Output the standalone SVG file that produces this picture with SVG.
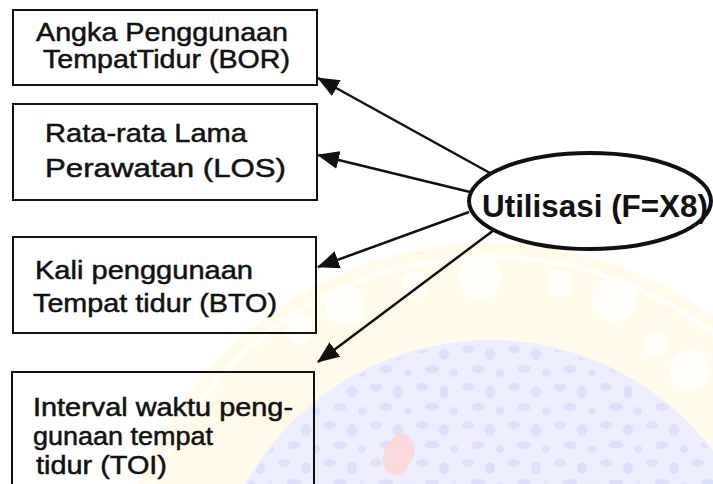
<svg xmlns="http://www.w3.org/2000/svg" width="713" height="484" viewBox="0 0 713 484">
  <style>
    .box { fill: none; stroke: #111; stroke-width: 2; }
    .lbl { font-family: "Liberation Sans", Arial, sans-serif; font-size: 26.5px; fill: #111; stroke: #111; stroke-width: 0.5; }
    .lbl.tight { font-size: 25px; }
    .main { font-family: "Liberation Sans", Arial, sans-serif; font-size: 31px; font-weight: bold; fill: #111; }
    .edge { fill: none; stroke: #111; stroke-width: 2.5; }
  </style>
  <defs>
    <marker id="arrow" markerUnits="userSpaceOnUse" markerWidth="22" markerHeight="18" viewBox="0 0 22 18" refX="21" refY="9" orient="auto">
      <path d="M0,0 L22,9 L0,18 Z" fill="#111"/>
    </marker>
    <pattern id="speckle" patternUnits="userSpaceOnUse" width="46" height="38">
      <ellipse cx="8" cy="7" rx="6" ry="4" fill="#dde0fb"/>
      <ellipse cx="30" cy="12" rx="5" ry="6" fill="#dde0fb"/>
      <ellipse cx="18" cy="27" rx="7" ry="4" fill="#dde0fb"/>
      <ellipse cx="40" cy="31" rx="4" ry="4" fill="#dde0fb"/>
    </pattern>
  </defs>

  <rect width="713" height="484" fill="#fff"/>

  <!-- faint emblem in the background -->
  <g id="emblem">
    <circle cx="490" cy="620" r="377" fill="#fffaea"/>
    <circle cx="490" cy="620" r="363" fill="none" stroke="#fffefa" stroke-width="5"/>
    <g fill="#fffefa">
      <circle cx="300" cy="330" r="14"/>
      <circle cx="345" cy="305" r="20"/>
      <circle cx="415" cy="285" r="13"/>
      <circle cx="480" cy="277" r="22"/>
      <circle cx="560" cy="283" r="13"/>
      <circle cx="615" cy="300" r="22"/>
      <circle cx="655" cy="345" r="12"/>
      <circle cx="690" cy="370" r="20"/>
    </g>
    <circle cx="490" cy="620" r="280" fill="#eceefd"/>
    <circle cx="490" cy="620" r="278" fill="url(#speckle)"/>
    <path d="M386,448 q10,-20 22,-12 q12,10 2,28 q-10,16 -20,10 q-12,-8 -4,-26 Z" fill="#fbdada"/>
  </g>

  <!-- connectors -->
  <g id="connectors">
    <line class="edge" x1="490" y1="173" x2="318" y2="78" marker-end="url(#arrow)"/>
    <line class="edge" x1="470" y1="192" x2="318" y2="155" marker-end="url(#arrow)"/>
    <line class="edge" x1="469" y1="212" x2="318" y2="267" marker-end="url(#arrow)"/>
    <line class="edge" x1="494" y1="230" x2="318" y2="362" marker-end="url(#arrow)"/>
  </g>

  <g id="bor">
    <rect class="box" x="13" y="10" width="304" height="75"/>
    <text class="lbl" x="36" y="41" textLength="252" lengthAdjust="spacingAndGlyphs">Angka Penggunaan</text>
    <text class="lbl" x="43" y="68" textLength="247" lengthAdjust="spacingAndGlyphs">TempatTidur (BOR)</text>
  </g>

  <g id="los">
    <rect class="box" x="13" y="104" width="304" height="96"/>
    <text class="lbl" x="45" y="142" textLength="202" lengthAdjust="spacingAndGlyphs">Rata-rata Lama</text>
    <text class="lbl" x="45" y="177" textLength="241" lengthAdjust="spacingAndGlyphs">Perawatan (LOS)</text>
  </g>

  <g id="bto">
    <rect class="box" x="13" y="237" width="303" height="96"/>
    <text class="lbl" x="35" y="279" textLength="218" lengthAdjust="spacingAndGlyphs">Kali penggunaan</text>
    <text class="lbl" x="33" y="312" textLength="244" lengthAdjust="spacingAndGlyphs">Tempat tidur (BTO)</text>
  </g>

  <g id="toi">
    <path class="box" d="M12,490 V372 H314 V490"/>
    <text class="lbl tight" x="33" y="416" textLength="260" lengthAdjust="spacingAndGlyphs">Interval waktu peng-</text>
    <text class="lbl tight" x="33" y="445" textLength="180" lengthAdjust="spacingAndGlyphs">gunaan tempat</text>
    <text class="lbl tight" x="36" y="474" textLength="131" lengthAdjust="spacingAndGlyphs">tidur (TOI)</text>
  </g>

  <g id="utilisasi">
    <ellipse cx="590" cy="201" rx="121" ry="48" fill="none" stroke="#111" stroke-width="4"/>
    <text class="main" x="482" y="217" textLength="226" lengthAdjust="spacingAndGlyphs">Utilisasi (F=X8)</text>
  </g>
</svg>
